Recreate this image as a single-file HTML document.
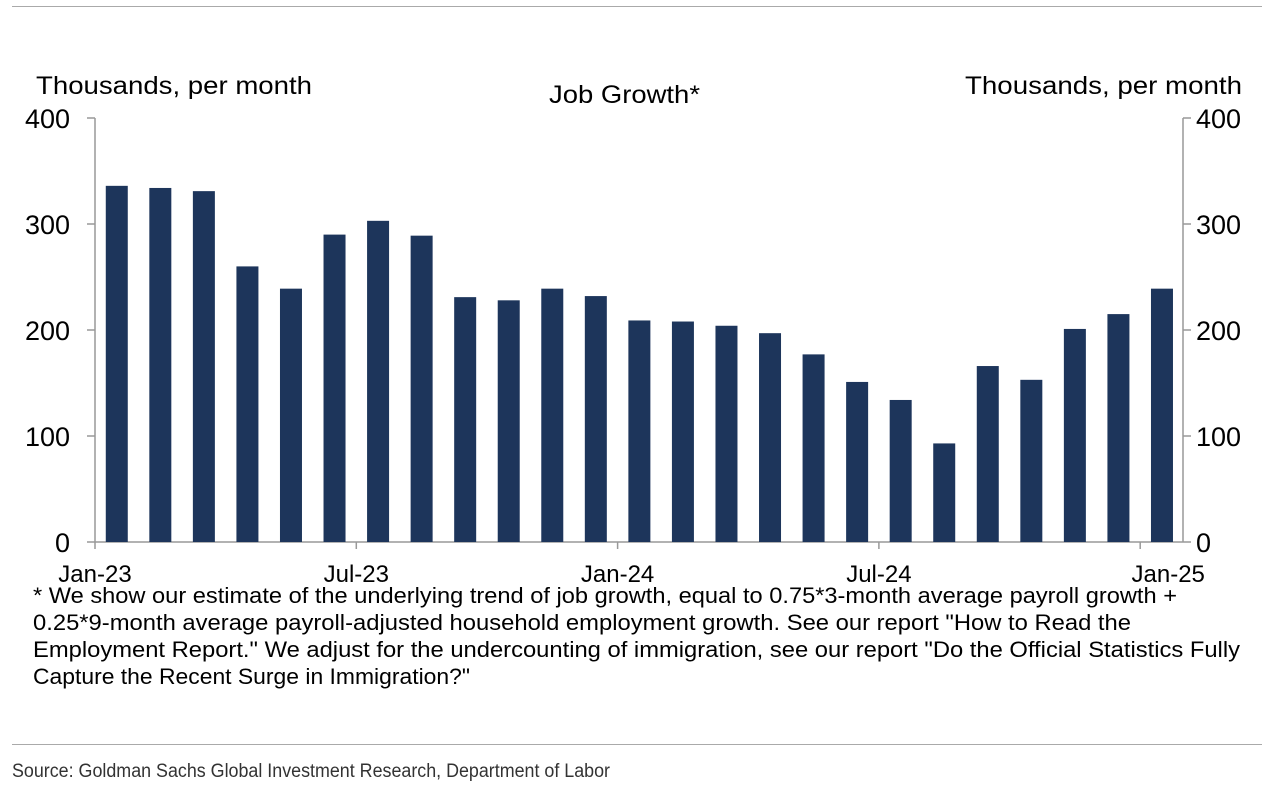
<!DOCTYPE html>
<html><head><meta charset="utf-8"><style>
body{margin:0;background:#fff;font-family:"Liberation Sans",Arial,sans-serif;}
svg text{font-family:"Liberation Sans",Arial,sans-serif;fill:#000;}
</style></head><body>
<svg width="1273" height="785" viewBox="0 0 1273 785">
<line x1="12" y1="6.5" x2="1262" y2="6.5" stroke="#aaa" stroke-width="1"/>
<text x="36" y="94" font-size="25" textLength="276" lengthAdjust="spacingAndGlyphs">Thousands, per month</text>
<text x="965" y="94" font-size="25" textLength="277" lengthAdjust="spacingAndGlyphs">Thousands, per month</text>
<text x="549" y="103" font-size="25" textLength="151" lengthAdjust="spacingAndGlyphs">Job Growth*</text>
<g id="axes"></g>
<g id="bars"></g>
<g font-size="22">
<text x="33" y="603" textLength="1144" lengthAdjust="spacingAndGlyphs">* We show our estimate of the underlying trend of job growth, equal to 0.75*3-month average payroll growth +</text>
<text x="33" y="630" textLength="1098" lengthAdjust="spacingAndGlyphs">0.25*9-month average payroll-adjusted household employment growth.  See our report "How to Read the</text>
<text x="33" y="657" textLength="1207" lengthAdjust="spacingAndGlyphs">Employment Report." We adjust for the undercounting of immigration, see our report "Do the Official Statistics Fully</text>
<text x="33" y="684" textLength="437" lengthAdjust="spacingAndGlyphs">Capture the Recent Surge in Immigration?"</text>
</g>
<line x1="12" y1="744.5" x2="1262" y2="744.5" stroke="#aaa" stroke-width="1"/>
<text x="12" y="777" font-size="19" style="fill:#333" textLength="598" lengthAdjust="spacingAndGlyphs">Source: Goldman Sachs Global Investment Research, Department of Labor</text>
</svg>
<script>
const values=[336,334,331,260,239,290,303,289,231,228,239,232,209,208,204,197,177,151,134,93,166,153,201,215,239];
const yTicks=[0,100,200,300,400];
const xTickLabels=["Jan-23","Jul-23","Jan-24","Jul-24","Jan-25"];
const xTickIdx=[0,6,12,18,24];
const NS="http://www.w3.org/2000/svg";
const x0=95,step=43.55,y0=542,yScale=424/400;
const xPos=i=>x0+step*i;
const yPos=v=>y0-v*yScale;
function mk(tag,attrs,parent){const e=document.createElementNS(NS,tag);for(const k in attrs)e.setAttribute(k,attrs[k]);parent.appendChild(e);return e;}
const axes=document.getElementById('axes'),bars=document.getElementById('bars');
const xr=1183;
let l=mk('line',{x1:x0,y1:yPos(400),x2:x0,y2:y0,stroke:'#999','stroke-width':1.5},axes);


l=mk('line',{x1:xr,y1:yPos(400),x2:xr,y2:y0,stroke:'#999','stroke-width':1.5},axes);


l=mk('line',{x1:x0,y1:y0,x2:xr,y2:y0,stroke:'#999','stroke-width':1.5},axes);


yTicks.forEach(v=>{
 const y=yPos(v);
 let t=mk('line',{x1:x0-8,y1:y,x2:x0,y2:y,stroke:'#999','stroke-width':1.5},axes);
 
 
 t=mk('line',{x1:xr,y1:y,x2:xr+8,y2:y,stroke:'#999','stroke-width':1.5},axes);
 
 
 let tx=mk('text',{x:70,y:y+10,'font-size':27,'text-anchor':'end'},axes);tx.textContent=v;
 
 
 tx=mk('text',{x:1196,y:y+10,'font-size':27},axes);tx.textContent=v;
 
 
});
xTickIdx.forEach((idx,k)=>{
 const x=xPos(idx);
 let t=mk('line',{x1:x,y1:y0,x2:x,y2:y0+7,stroke:'#999','stroke-width':1.5},axes);
 
 
 let tx=mk('text',{x:k==4?x+28:x,y:582,'font-size':24,'text-anchor':'middle'},axes);tx.textContent=xTickLabels[k];
 
 
});
values.forEach((v,i)=>{
 const cx=xPos(i+0.5);
 const r=mk('rect',{x:cx-11,y:yPos(v),width:22,height:y0-yPos(v),fill:'#1d355b'},bars);
 
 
});
</script>
</body></html>
